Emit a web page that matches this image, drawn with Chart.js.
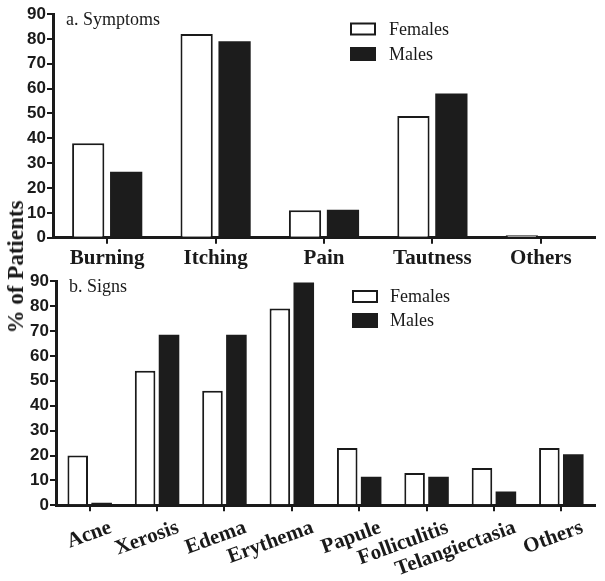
<!DOCTYPE html>
<html>
<head>
<meta charset="utf-8">
<script src="https://cdn.jsdelivr.net/npm/chart.js@4.4.1/dist/chart.umd.min.js"></script>
<style>
  html, body { margin: 0; padding: 0; background: #ffffff; }
  #wrap { position: relative; width: 605px; height: 581px; overflow: hidden; }
  .panel { position: absolute; left: 0; width: 605px; }
  #top { top: 0; height: 270px; }
  #bottom { top: 270px; height: 311px; }
  #ylabel {
    position: absolute; left: 16px; top: 267px;
    transform: translate(-50%, -50%) rotate(-90deg);
    font-family: "Liberation Serif", "Times New Roman", serif;
    font-weight: bold; font-size: 23px; color: #1a1a1a; white-space: nowrap;
  }
</style>
</head>
<body>
<div id="wrap">
  <div class="panel" id="top"><canvas id="c1"></canvas></div>
  <div class="panel" id="bottom"><canvas id="c2"></canvas></div>
  <div id="ylabel">% of Patients</div>
</div>
<script>
// ---- data ----
const symptomCategories = ['Burning', 'Itching', 'Pain', 'Tautness', 'Others'];
const symptomFemales = [38, 82, 11, 49, 1];
const symptomMales = [26.5, 79, 11.2, 58, 0];

const signCategories = ['Acne', 'Xerosis', 'Edema', 'Erythema', 'Papule', 'Folliculitis', 'Telangiectasia', 'Others'];
const signFemales = [20, 54, 46, 79, 23, 13, 15, 23];
const signMales = [1, 68.5, 68.5, 89.5, 11.5, 11.5, 5.5, 20.5];

const yTickValues = [0, 10, 20, 30, 40, 50, 60, 70, 80, 90];
const seriesNames = ['Females', 'Males'];
const panelTitles = ['a. Symptoms', 'b. Signs'];

// ---- styles ----
const INK = '#1a1a1a';
const SERIF = '"Liberation Serif", "Times New Roman", serif';
const SANS = '"Liberation Sans", Arial, sans-serif';

const panelDecor = {
  id: 'panelDecor',
  afterDraw(chart, args, opts) {
    const ctx = chart.ctx;
    ctx.save();
    // panel title
    ctx.fillStyle = INK;
    ctx.font = '18px ' + SERIF;
    ctx.textAlign = 'left';
    ctx.textBaseline = 'alphabetic';
    ctx.fillText(opts.title, opts.titleX, opts.titleY);
    // legend
    chart.data.datasets.forEach((ds, i) => {
      const cy = opts.legendY[i];
      const bx = opts.legendX, bw = 26, bh = opts.boxH[i];
      if (ds.backgroundColor === '#ffffff') {
        ctx.fillStyle = '#ffffff';
        ctx.fillRect(bx, cy - bh / 2, bw, bh);
        ctx.strokeStyle = INK;
        ctx.lineWidth = 2;
        ctx.strokeRect(bx + 1, cy - bh / 2 + 1, bw - 2, bh - 2);
      } else {
        ctx.fillStyle = ds.backgroundColor;
        ctx.fillRect(bx, cy - bh / 2, bw, bh);
      }
      ctx.fillStyle = INK;
      ctx.font = '18px ' + SERIF;
      ctx.textBaseline = 'middle';
      ctx.fillText(ds.label, opts.textX, cy + 1);
    });
    ctx.restore();
  }
};

function makeChart(canvasId, cats, fem, mal, cfg) {
  return new Chart(document.getElementById(canvasId), {
    type: 'bar',
    data: {
      labels: cats,
      datasets: [
        { label: seriesNames[0], data: fem, backgroundColor: '#ffffff', borderColor: INK, borderWidth: 2,
          categoryPercentage: cfg.catPct, barPercentage: cfg.barPct },
        { label: seriesNames[1], data: mal, backgroundColor: '#1c1c1c', borderColor: '#1c1c1c', borderWidth: 0,
          categoryPercentage: cfg.catPct, barPercentage: cfg.barPct }
      ]
    },
    options: {
      responsive: true,
      maintainAspectRatio: false,
      animation: false,
      layout: { padding: { left: 0, right: 10, top: cfg.padTop, bottom: 0 } },
      plugins: {
        legend: { display: false },
        tooltip: { enabled: false },
        title: { display: false },
        panelDecor: cfg.decor
      },
      scales: {
        x: {
          offset: true,
          grid: { display: true, drawOnChartArea: false, offset: false, drawTicks: true,
                  tickLength: 6, color: INK, lineWidth: 2 },
          border: { display: true, color: INK, width: 3 },
          ticks: {
            color: INK,
            font: { family: SERIF, weight: 'bold', size: 21 },
            padding: cfg.xPad,
            maxRotation: cfg.rot, minRotation: cfg.rot,
            labelOffset: cfg.labelOffset,
            autoSkip: false
          },
          afterFit: s => { s.height = cfg.xHeight; }
        },
        y: {
          min: 0, max: 90,
          afterBuildTicks: axis => { axis.ticks = yTickValues.map(v => ({ value: v })); },
          grid: { display: true, drawOnChartArea: false, drawTicks: true, tickLength: 6, color: INK, lineWidth: 2 },
          border: { display: true, color: INK, width: 3 },
          ticks: {
            color: INK,
            font: { family: SANS, weight: 'bold', size: 17 },
            padding: 1
          },
          afterFit: s => { s.width = cfg.yWidth; }
        }
      }
    },
    plugins: [panelDecor]
  });
}

makeChart('c1', symptomCategories, symptomFemales, symptomMales, {
  catPct: 0.7, barPct: 0.85, padTop: 14, xHeight: 32.3, yWidth: 53, xPad: 2, rot: 0, labelOffset: 0,
  decor: { title: panelTitles[0], titleX: 66, titleY: 25, legendX: 350, textX: 389, legendY: [29, 54], boxH: [13, 14] }
});

makeChart('c2', signCategories, signFemales, signMales, {
  catPct: 0.71, barPct: 0.86, padTop: 10.7, xHeight: 75.7, yWidth: 56, xPad: 4, rot: 20, labelOffset: 21,
  decor: { title: panelTitles[1], titleX: 69, titleY: 22, legendX: 352, textX: 390, legendY: [26.5, 50.5], boxH: [13, 15] }
});
</script>
</body>
</html>
